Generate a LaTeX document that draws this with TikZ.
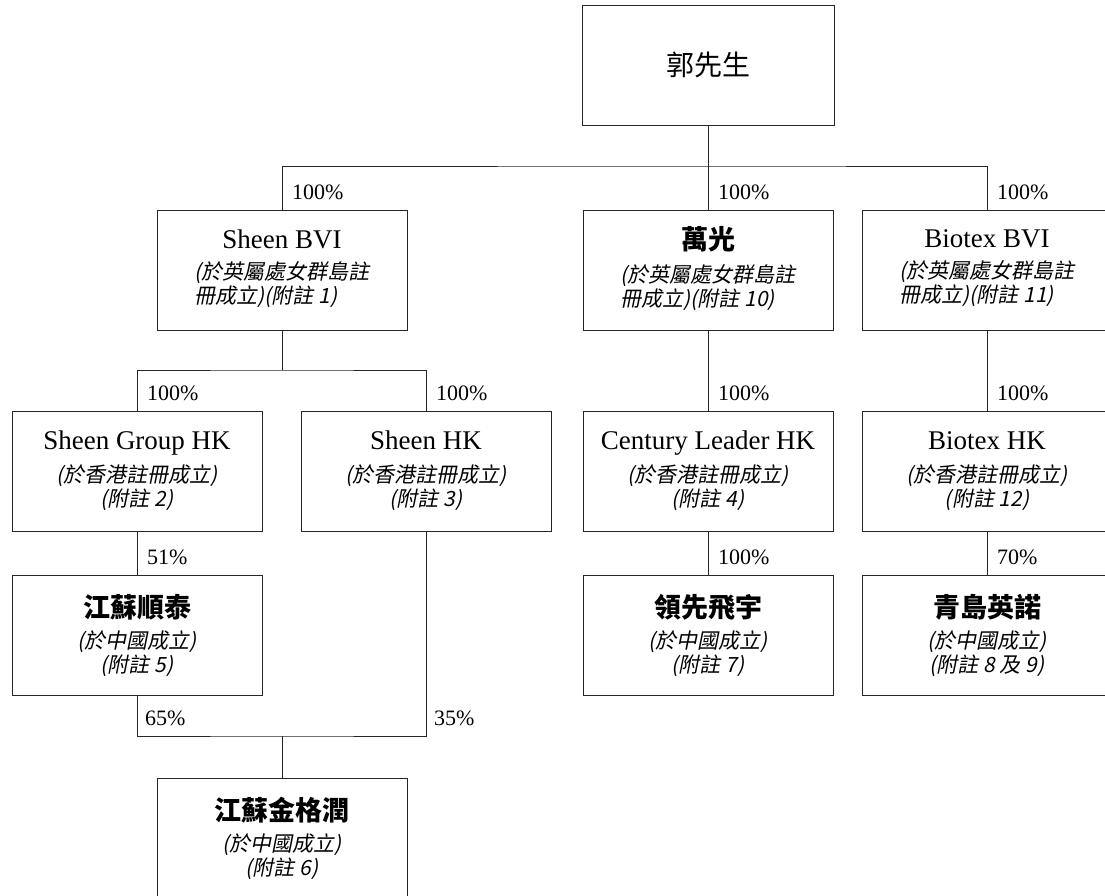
\documentclass[tikz,border=0pt]{standalone}
\usepackage{fontspec}
\setmainfont{Liberation Serif}
\newfontfamily\cjk{Noto Sans CJK TC}
\newfontfamily\cjkit[FakeSlant=0.2]{Noto Sans CJK TC}
\usetikzlibrary{positioning}

\newcommand{\hd}[1]{{\fontsize{27}{30}\selectfont #1}}
\newcommand{\hdc}[1]{{\cjk\bfseries\fontsize{27}{30}\selectfont #1}}
\newcommand{\sub}[1]{{\cjkit #1}}

\begin{document}
\begin{tikzpicture}[x=1pt,y=-1pt]
\tikzstyle{box}=[rectangle,draw=black!85,line width=0.9pt,align=center,minimum width=250pt,minimum height=120pt,inner sep=0pt,font=\fontsize{21}{24}\selectfont]
\tikzstyle{pct}=[inner sep=0pt,font=\fontsize{22}{22}\selectfont]
\tikzstyle{link}=[draw=black!85,line width=0.9pt]
\useasboundingbox (0,0) rectangle (1105,896);
\clip (0,0) rectangle (1105,896);
% owner
\node [box,minimum width=252pt] (guo) at (708,65) {{\cjk\fontsize{28}{30}\selectfont 郭先生}};
% BVI level
\node [box] (sbvi) at (282,270) {\hd{Sheen BVI}\\[12pt]\begin{tabular}{@{}l@{}}\sub{(於英屬處女群島註}\\[-1pt]\sub{冊成立)(附註 1)}\end{tabular}};
\node [box] (wg) at (708,270) {\hdc{萬光}\\[12pt]\begin{tabular}{@{}l@{}}\sub{(於英屬處女群島註}\\[-1pt]\sub{冊成立)(附註 10)}\end{tabular}};
\node [box] (bbvi) at (987,270) {\hd{Biotex BVI}\\[12pt]\begin{tabular}{@{}l@{}}\sub{(於英屬處女群島註}\\[-1pt]\sub{冊成立)(附註 11)}\end{tabular}};
% HK level
\node [box] (sghk) at (137,471) {\hd{Sheen Group HK}\\[9pt]\sub{(於香港註冊成立)}\\\sub{(附註 2)}};
\node [box] (shk) at (426,471) {\hd{Sheen HK}\\[9pt]\sub{(於香港註冊成立)}\\\sub{(附註 3)}};
\node [box] (clhk) at (708,471) {\hd{Century Leader HK}\\[9pt]\sub{(於香港註冊成立)}\\\sub{(附註 4)}};
\node [box] (bhk) at (987,471) {\hd{Biotex HK}\\[9pt]\sub{(於香港註冊成立)}\\\sub{(附註 12)}};
% PRC level
\node [box] (jst) at (137,635) {\hdc{江蘇順泰}\\[7pt]\sub{(於中國成立)}\\\sub{(附註 5)}};
\node [box] (lxfy) at (708,635) {\hdc{領先飛宇}\\[7pt]\sub{(於中國成立)}\\\sub{(附註 7)}};
\node [box] (qdyn) at (987,635) {\hdc{青島英諾}\\[7pt]\sub{(於中國成立)}\\\sub{(附註 8 及 9)}};
\node [box] (jjgr) at (282,838) {\hdc{江蘇金格潤}\\[7pt]\sub{(於中國成立)}\\\sub{(附註 6)}};
% junctions
\coordinate (j0) at (708,166);
\coordinate (j1) at (282,370);
\coordinate (j2) at (282,736);
\coordinate (j2a) at (jst.south |- j2);
\coordinate (j2b) at (shk.south |- j2);
% connectors
\draw [link] (guo) -- (wg);
\draw [link] (sbvi.north) |- (j0) -| (bbvi.north);
\draw [link] (sbvi) -- (j1);
\draw [link] (sghk.north) |- (j1) -| (shk.north);
\draw [link] (wg) -- (clhk);
\draw [link] (bbvi) -- (bhk);
\draw [link] (sghk) -- (jst);
\draw [link] (clhk) -- (lxfy);
\draw [link] (bhk) -- (qdyn);
\draw [link] (jst.south) |- (j2) -| (shk.south);
\draw [link] (j2) -- (jjgr);
% shareholdings
\node [pct,above right=10pt and 10pt of sbvi.north] (p1) {100\%};
\node [pct,above right=10pt and 10pt of wg.north] (p2) {100\%};
\node [pct,above right=10pt and 10pt of bbvi.north] (p3) {100\%};
\node [pct,above right=10pt and 10pt of sghk.north] (p4) {100\%};
\node [pct,above right=10pt and 10pt of shk.north] (p5) {100\%};
\node [pct,above right=10pt and 10pt of clhk.north] (p6) {100\%};
\node [pct,above right=10pt and 10pt of bhk.north] (p7) {100\%};
\node [pct,above right=10pt and 10pt of jst.north] (p8) {51\%};
\node [pct,above right=10pt and 10pt of lxfy.north] (p9) {100\%};
\node [pct,above right=10pt and 10pt of qdyn.north] (p10) {70\%};
\node [pct,above right=10pt and 8pt of j2a] (p11) {65\%};
\node [pct,above right=10pt and 8pt of j2b] (p12) {35\%};
\end{tikzpicture}
\end{document}
